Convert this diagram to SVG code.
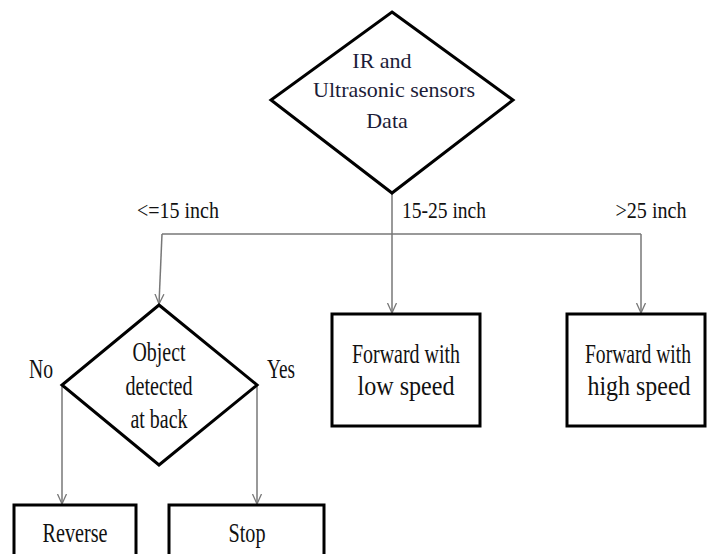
<svg xmlns="http://www.w3.org/2000/svg" width="707" height="554" viewBox="0 0 707 554">
<style>
.shape{fill:#fff;stroke:#000;stroke-width:3;stroke-linejoin:miter}
.conn{fill:none;stroke:#777;stroke-width:1.5}
.t{font-family:"Liberation Serif","Times New Roman",serif;fill:#111;text-anchor:middle}
.top{font-size:22px;fill:#1c1c38}
.lab{font-size:23px}
.b{font-size:28px}
</style>
<defs>
<marker id="arr" markerUnits="userSpaceOnUse" markerWidth="12" markerHeight="12" refX="10" refY="5" orient="auto" viewBox="0 0 12 10">
<path d="M0,0.5 L10,5 L0,9.5" fill="none" stroke="#777" stroke-width="1.3"/>
</marker>
</defs>
<g id="connectors">
<line class="conn" x1="392" y1="193" x2="392" y2="313" marker-end="url(#arr)"/>
<line class="conn" x1="162" y1="234" x2="641" y2="234"/>
<line class="conn" x1="162" y1="234" x2="159" y2="304" marker-end="url(#arr)"/>
<line class="conn" x1="641" y1="234" x2="641" y2="313" marker-end="url(#arr)"/>
<line class="conn" x1="62" y1="385" x2="62" y2="504" marker-end="url(#arr)"/>
<line class="conn" x1="257" y1="385" x2="257" y2="504" marker-end="url(#arr)"/>
</g>
<g id="labels">
<text class="t lab" x="178" y="218" textLength="82" lengthAdjust="spacingAndGlyphs">&lt;=15 inch</text>
<text class="t lab" x="444" y="218" textLength="84" lengthAdjust="spacingAndGlyphs">15-25 inch</text>
<text class="t lab" x="651" y="218" textLength="71" lengthAdjust="spacingAndGlyphs">&gt;25 inch</text>
<text class="t b" x="41" y="378" textLength="24" lengthAdjust="spacingAndGlyphs">No</text>
<text class="t b" x="281" y="378" textLength="28" lengthAdjust="spacingAndGlyphs">Yes</text>
</g>
<g id="sensors">
<polygon class="shape" points="392,12 513,100 392,193 271,100"/>
<text class="t top" x="382" y="68">IR and</text>
<text class="t top" x="394" y="97">Ultrasonic sensors</text>
<text class="t top" x="387" y="128">Data</text>
</g>
<g id="object-detected">
<polygon class="shape" points="159,305 257,385 159,465 62,385"/>
<text class="t b" x="159" y="361" textLength="53" lengthAdjust="spacingAndGlyphs">Object</text>
<text class="t b" x="159" y="395" textLength="67" lengthAdjust="spacingAndGlyphs">detected</text>
<text class="t b" x="159" y="428" textLength="57" lengthAdjust="spacingAndGlyphs">at back</text>
</g>
<g id="low-speed">
<rect class="shape" x="332" y="314" width="148" height="112"/>
<text class="t b" x="406" y="363" textLength="108" lengthAdjust="spacingAndGlyphs">Forward with</text>
<text class="t b" x="406" y="395" textLength="97" lengthAdjust="spacingAndGlyphs">low speed</text>
</g>
<g id="high-speed">
<rect class="shape" x="567" y="314" width="138" height="112"/>
<text class="t b" transform="translate(638,0) scale(0.7,1)" x="0" y="363">Forward with</text>
<text class="t b" x="639" y="395" textLength="103" lengthAdjust="spacingAndGlyphs">high speed</text>
</g>
<g id="reverse">
<rect class="shape" x="14" y="505" width="122" height="60"/>
<text class="t b" x="75" y="542" textLength="65" lengthAdjust="spacingAndGlyphs">Reverse</text>
</g>
<g id="stop">
<rect class="shape" x="169" y="505" width="155" height="60"/>
<text class="t b" x="247" y="542" textLength="37" lengthAdjust="spacingAndGlyphs">Stop</text>
</g>
</svg>
